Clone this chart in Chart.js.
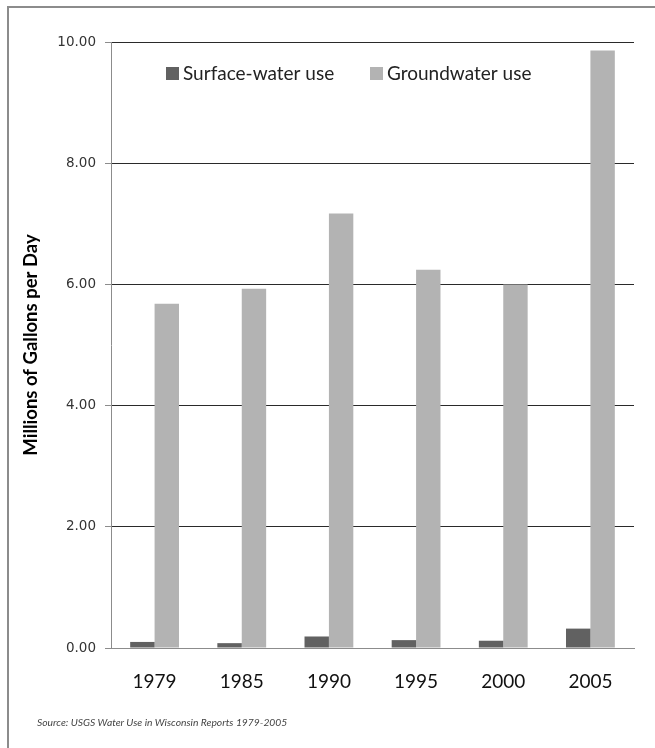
<!DOCTYPE html>
<html>
<head>
<meta charset="utf-8">
<script src="https://cdn.jsdelivr.net/npm/chart.js@4/dist/chart.umd.min.js"></script>
<style>
  html, body { margin: 0; padding: 0; background: #fff; }
  #wrap { position: relative; width: 655px; height: 748px; overflow: hidden; }
  #frame { position: absolute; left: 7px; top: 6px; width: 700px; height: 800px;
           border-left: 2px solid #8c8c8c; border-top: 2px solid #8c8c8c; }
  #chart { position: absolute; left: 0; top: 0; }
  #source { position: absolute; left: 37px; top: 716px; font-family: Lato, sans-serif;
            font-style: italic; font-size: 10.3px; color: #444; white-space: nowrap; }
</style>
</head>
<body>
<div id="wrap">
  <div id="frame"></div>
  <canvas id="chart" width="655" height="748"></canvas>
  <div id="source">Source: USGS Water Use in Wisconsin Reports 1979-2005</div>
</div>
<script>
// Wisconsin water use, millions of gallons per day
const years = ['1979', '1985', '1990', '1995', '2000', '2005'];
const surfaceWater = [0.10, 0.08, 0.19, 0.13, 0.12, 0.32];
const groundwater = [5.68, 5.93, 7.17, 6.24, 6.00, 9.86];
const seriesNames = ['Surface-water use', 'Groundwater use'];
const yTicks = [0, 2, 4, 6, 8, 10];

// Legend drawn inside the plot area, near its top-left
const innerLegend = {
  id: 'innerLegend',
  afterDatasetsDraw(chart) {
    const ctx = chart.ctx;
    const area = chart.chartArea;
    const xs = [area.left + 55, area.left + 259];
    const y = area.top + 31;
    ctx.save();
    ctx.font = '19px Lato, sans-serif';
    ctx.textBaseline = 'middle';
    ctx.textAlign = 'left';
    chart.data.datasets.forEach((ds, i) => {
      ctx.fillStyle = ds.backgroundColor;
      ctx.fillRect(xs[i], y - 6, 13, 13);
      ctx.fillStyle = '#222';
      ctx.fillText(ds.label, xs[i] + 17, y + 1);
    });
    ctx.restore();
  }
};

new Chart(document.getElementById('chart'), {
  type: 'bar',
  data: {
    labels: years,
    datasets: [
      { label: seriesNames[0], data: surfaceWater, backgroundColor: '#616161' },
      { label: seriesNames[1], data: groundwater, backgroundColor: '#b3b3b3' }
    ]
  },
  options: {
    responsive: false,
    devicePixelRatio: 1,
    animation: false,
    categoryPercentage: 0.56,
    barPercentage: 1.0,
    layout: { padding: { top: 42, right: 21, left: 0, bottom: 0 } },
    plugins: {
      legend: { display: false },
      tooltip: { enabled: false }
    },
    scales: {
      x: {
        grid: { display: false, drawTicks: false },
        border: { display: true, color: '#8c8c8c', width: 1 },
        ticks: { font: { family: 'Lato, sans-serif', size: 19 }, color: '#111', padding: 22 },
        afterFit(scale) { scale.height = 100; }
      },
      y: {
        min: 0,
        max: 10,
        afterBuildTicks(scale) { scale.ticks = yTicks.map(v => ({ value: v })); },
        ticks: {
          font: { family: 'DejaVu Sans, sans-serif', size: 13.5 },
          color: '#333',
          padding: 9,
          callback: v => Number(v).toFixed(2)
        },
        grid: {
          color: ctx => (ctx.tick && ctx.tick.value === 0) ? 'rgba(0,0,0,0)' : '#2a2a2a',
          tickColor: '#8c8c8c',
          tickLength: 6,
          lineWidth: 1
        },
        border: { display: true, color: '#8c8c8c', width: 1 },
        title: {
          display: true,
          text: 'Millions of Gallons per Day',
          font: { family: 'Lato, sans-serif', size: 18.5, weight: 'bold' },
          color: '#000',
          padding: { top: 20, bottom: 0 }
        },
        afterFit(scale) { scale.width = 111; }
      }
    }
  },
  plugins: [innerLegend]
});
</script>
</body>
</html>
